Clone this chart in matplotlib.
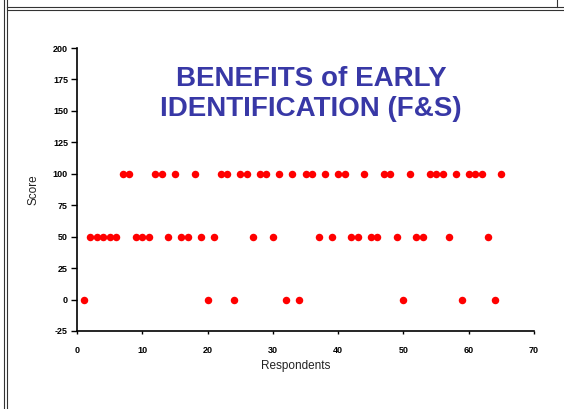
import matplotlib
matplotlib.use("Agg")
import matplotlib.pyplot as plt
from matplotlib.lines import Line2D

# ---- data ----
respondents = list(range(1, 66))
scores = [0, 50, 50, 50, 50, 50, 100, 100, 50, 50,
          50, 100, 100, 50, 100, 50, 50, 100, 50, 0,
          50, 100, 100, 0, 100, 100, 50, 100, 100, 50,
          100, 0, 100, 0, 100, 100, 50, 100, 50, 100,
          100, 50, 50, 100, 50, 50, 100, 100, 50, 0,
          100, 50, 50, 100, 100, 100, 50, 100, 0, 100,
          100, 100, 50, 0, 100]
title_lines = ["BENEFITS of EARLY", "IDENTIFICATION (F&S)"]
x_ticks = list(range(0, 71, 10))
y_ticks = list(range(-25, 201, 25))

plt.rcParams['font.family'] = ['Liberation Sans', 'DejaVu Sans']
plt.rcParams['axes.unicode_minus'] = False

W, H = 564, 409
fig = plt.figure(figsize=(W / 100, H / 100), dpi=100)
fig.patch.set_facecolor('white')

ax = fig.add_axes([77 / W, 1 - 331 / H, (534 - 77) / W, (331 - 48) / H])
ax.plot(respondents, scores, linestyle='none', marker='o', markersize=5.4,
        markerfacecolor='#ff0000', markeredgecolor='#ff0000', markeredgewidth=0)

ax.set_xlim(0, 70)
ax.set_ylim(-25, 200)
ax.set_xticks(x_ticks)
ax.set_yticks(y_ticks)
for s in ['top', 'right']:
    ax.spines[s].set_visible(False)
for s in ['left', 'bottom']:
    ax.spines[s].set_linewidth(1.2)
    ax.spines[s].set_color('black')
ax.tick_params(axis='y', direction='out', length=4.5, width=1, pad=2, labelsize=6.5)
ax.tick_params(axis='x', direction='out', length=2.5, width=1, pad=8, labelsize=6.5)
for lab in ax.get_xticklabels() + ax.get_yticklabels():
    lab.set_fontweight('bold')

ax.set_xlabel('Respondents', fontsize=8.5, color='#222222')
ax.xaxis.set_label_coords(0.479, -0.103)
ax.set_ylabel('Score', fontsize=8.5, color='#222222')
ax.yaxis.set_label_coords(-0.081, 0.5)

fig.text(311 / W, 1 - 94 / H, "\n".join(title_lines), ha='center', va='center',
         fontsize=20, fontweight='bold', color='#3838a6', linespacing=1.22)

# frame lines of the surrounding box
fcol = '#333333'
fig.add_artist(Line2D([3.5 / W, 3.5 / W], [0, 1], transform=fig.transFigure, color=fcol, lw=0.8))
fig.add_artist(Line2D([6.5 / W, 6.5 / W], [0, 1], transform=fig.transFigure, color=fcol, lw=0.8))
fig.add_artist(Line2D([6.5 / W, 1], [1 - 7 / H, 1 - 7 / H], transform=fig.transFigure, color=fcol, lw=0.8))
fig.add_artist(Line2D([6.5 / W, 1], [1 - 9.5 / H, 1 - 9.5 / H], transform=fig.transFigure, color=fcol, lw=0.8))
fig.add_artist(Line2D([557 / W, 557 / W], [1 - 7 / H, 1], transform=fig.transFigure, color=fcol, lw=0.8))

fig.savefig('out.png', dpi=100, facecolor='white')
